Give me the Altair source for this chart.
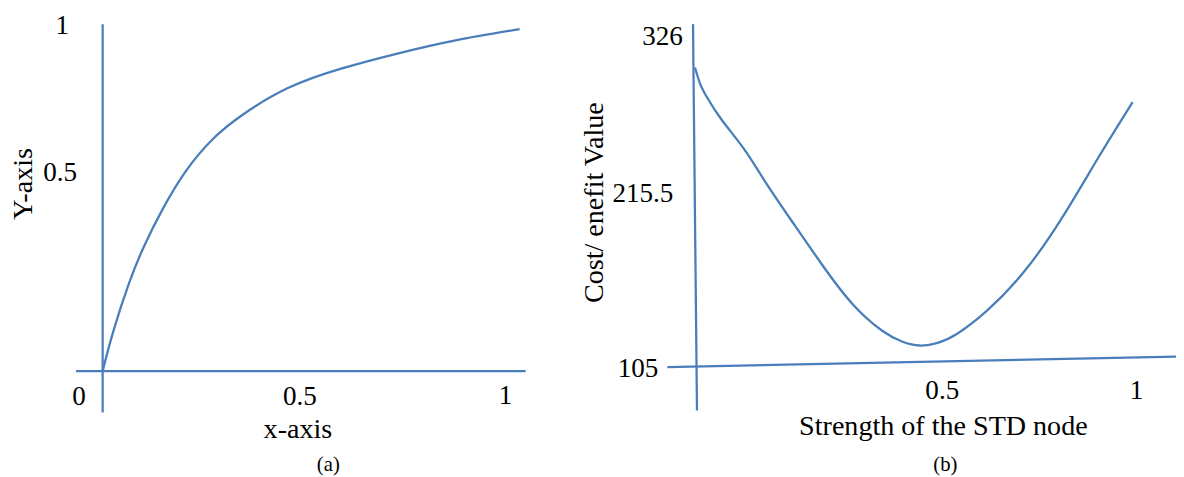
import altair as alt
import pandas as pd

BLUE = "#4a7ebb"
FONT = "Liberation Serif"

# ---------------- panel (a) data ----------------
a_x = [0.0, 0.027, 0.066, 0.103, 0.150, 0.207, 0.273, 0.350, 0.463, 0.596, 0.739, 0.882, 1.042]
a_y = [0.0, 0.118, 0.258, 0.365, 0.475, 0.585, 0.678, 0.752, 0.830, 0.887, 0.932, 0.970, 1.003]

a_ticks_y = ["1", "0.5"]
a_ticks_x = ["0", "0.5", "1"]
a_xtitle = "x-axis"
a_ytitle = "Y-axis"
a_caption = "(a)"

# ---------------- panel (b) data ----------------
b_x = [0.0, 0.0112, 0.0268, 0.0603, 0.1116, 0.1607,
       0.2210, 0.2879, 0.3571, 0.4241, 0.4688, 0.5089, 0.5513, 0.5938, 0.6607,
       0.7455, 0.8304, 0.9152, 0.9911]
b_y = [308.0, 297.3, 288.0, 272.6, 252.6, 229.9,
       203.2, 174.4, 147.7, 129.7, 122.4, 119.7, 121.7, 127.7, 143.1,
       169.8, 205.8, 247.9, 284.6]

b_ticks_y = ["326", "215.5", "105"]
b_ticks_x = ["0.5", "1"]
b_xtitle = "Strength of the STD node"
b_ytitle = "Cost/ enefit Value"
b_caption = "(b)"

# ---------------- layout helpers ----------------
A_W, B_W, H = 580, 588, 461
A_XD = [-0.2365, 1.1921]
A_YD = [-0.2919, 1.0405]
B_XD = [-0.2232, 1.0893]
B_YD = [34.89, 342.7]


def sx(d):
    return alt.Scale(domain=d, nice=False, zero=False)


def build(curve, axes, ticks, xtitle, ytitle, caption, xd, yd, w, clip_axes=False):
    X = alt.X("x:Q", scale=sx(xd), axis=None)
    Y = alt.Y("y:Q", scale=sx(yd), axis=None)
    line = alt.Chart(curve).mark_line(
        color=BLUE, strokeWidth=2.3, interpolate="natural"
    ).encode(x=X, y=Y, order="x:Q")
    rules = alt.Chart(axes).mark_rule(
        color=BLUE, strokeWidth=2.3, clip=clip_axes
    ).encode(x=X, y=Y, x2="x2:Q", y2="y2:Q")
    tick_txt = alt.Chart(ticks).mark_text(
        font=FONT, fontSize=27.5, color="black", align="center", baseline="middle", dy=-3
    ).encode(x=X, y=Y, text="t:N")
    xt = alt.Chart(xtitle).mark_text(
        font=FONT, fontSize=28.5, color="black", align="center", baseline="middle"
    ).encode(x=X, y=Y, text="t:N")
    yt = alt.Chart(ytitle).mark_text(
        font=FONT, fontSize=28.5, color="black", align="center", baseline="middle", angle=270
    ).encode(x=X, y=Y, text="t:N")
    cap = alt.Chart(caption).mark_text(
        font=FONT, fontSize=21, color="black", align="center", baseline="middle"
    ).encode(x=X, y=Y, text="t:N")
    return alt.layer(rules, line, tick_txt, xt, yt, cap).properties(width=w, height=H)


# panel (a)
a_curve = pd.DataFrame({"x": a_x, "y": a_y})
a_axes = pd.DataFrame({"x": [0.0, -0.0665], "y": [-0.121, 0.0],
                       "x2": [0.0, 1.057], "y2": [1.017, 0.0]})
a_tick_df = pd.DataFrame({
    "t": a_ticks_y + a_ticks_x,
    "x": [-0.101, -0.106, -0.059, 0.493, 1.007],
    "y": [1.003, 0.572, -0.084, -0.084, -0.081],
})
a_xt = pd.DataFrame({"t": [a_xtitle], "x": [0.488], "y": [-0.171]})
a_yt = pd.DataFrame({"t": [a_ytitle], "x": [-0.1995], "y": [0.549]})
a_cap = pd.DataFrame({"t": [a_caption], "x": [0.564], "y": [-0.2746]})

# panel (b)
b_curve = pd.DataFrame({"x": b_x, "y": b_y})
b_axes = pd.DataFrame({"x": [-0.0045, -0.0625], "y": [337.4, 105.0],
                       "x2": [0.0045, 1.107], "y2": [75.6, 112.3]})
b_tick_df = pd.DataFrame({
    "t": b_ticks_y + b_ticks_x,
    "x": [-0.0737, -0.118, -0.129, 0.560, 1.0],
    "y": [326.7, 220.5, 101.7, 87.0, 87.0],
})
b_xt = pd.DataFrame({"t": [b_xtitle], "x": [0.5625], "y": [64.9]})
b_yt = pd.DataFrame({"t": [b_ytitle], "x": [-0.2277], "y": [216.5]})
b_cap = pd.DataFrame({"t": [b_caption], "x": [0.567], "y": [38.9]})

pa = build(a_curve, a_axes, a_tick_df, a_xt, a_yt, a_cap, A_XD, A_YD, A_W)
pb = build(b_curve, b_axes, b_tick_df, b_xt, b_yt, b_cap, B_XD, B_YD, B_W, clip_axes=True)

chart = alt.hconcat(pa, pb, spacing=0).properties(
    padding=0, background="white"
).configure_view(stroke=None)

chart.save("out.html", embed_options={"renderer": "svg", "actions": False})
